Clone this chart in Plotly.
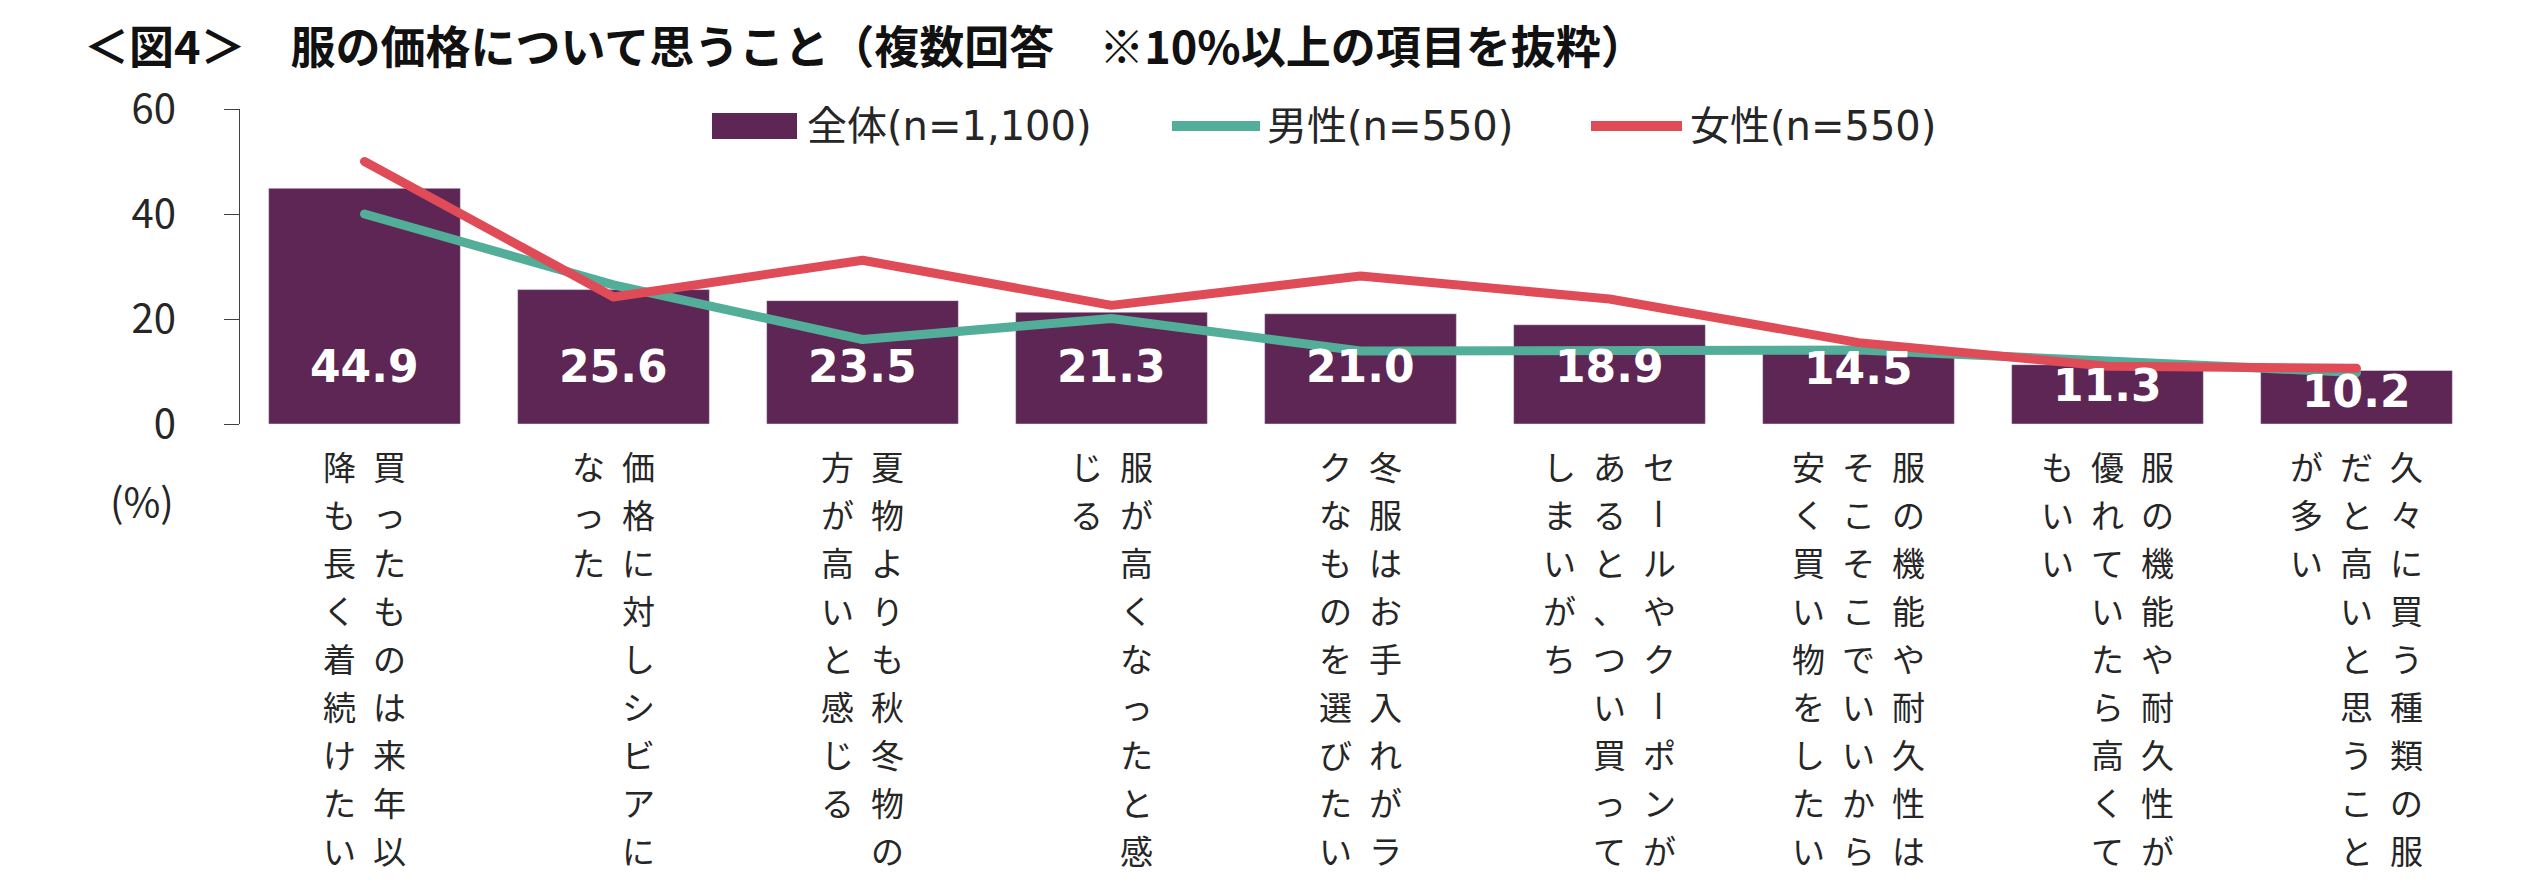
import plotly.graph_objects as go

categories = [
    "買ったものは来年以降も長く着続けたい",
    "価格に対しシビアになった",
    "夏物よりも秋冬物の方が高いと感じる",
    "服が高くなったと感じる",
    "冬服はお手入れがラクなものを選びたい",
    "セールやクーポンがあると、つい買ってしまいがち",
    "服の機能や耐久性はそこそこでいいから安く買い物をしたい",
    "服の機能や耐久性が優れていたら高くてもいい",
    "久々に買う種類の服だと高いと思うことが多い",
]
label_columns = [
    ["買ったものは来年以", "降も長く着続けたい"],
    ["価格に対しシビアに", "なった"],
    ["夏物よりも秋冬物の", "方が高いと感じる"],
    ["服が高くなったと感", "じる"],
    ["冬服はお手入れがラ", "クなものを選びたい"],
    ["セールやクーポンが", "あると、つい買って", "しまいがち"],
    ["服の機能や耐久性は", "そこそこでいいから", "安く買い物をしたい"],
    ["服の機能や耐久性が", "優れていたら高くて", "もいい"],
    ["久々に買う種類の服", "だと高いと思うこと", "が多い"],
]
total = [44.9, 25.6, 23.5, 21.3, 21.0, 18.9, 14.5, 11.3, 10.2]
men = [40.0, 26.5, 16.1, 20.1, 13.9, 14.1, 14.1, 12.0, 9.8]
women = [50.0, 24.2, 31.2, 22.6, 28.2, 23.8, 15.5, 11.0, 10.6]
series_names = ["全体(n=1,100)", "男性(n=550)", "女性(n=550)"]
y_ticks = [0, 20, 40, 60]

PURPLE = "#5E2654"
TEAL = "#52AE98"
RED = "#E04B58"
TXT = "#262626"
FONT = "Noto Sans CJK JP"
FONT_LATIN = "DejaVu Sans, Noto Sans CJK JP"

W, H = 2534, 886
L, R, T, B = 240, 53, 109, 462
PW = W - L - R
PH = H - T - B

LBL_SIZE = 33
COL_PITCH = 50
CH_PITCH = 48
FIRST_CENTER = 42      # px below the axis to the centre of the first character


def px_x(px):
    return (px - L) / PW


def px_y(py):
    return (H - B - py) / PH


fig = go.Figure()
fig.add_trace(go.Bar(x=categories, y=total, marker_color=PURPLE, name=series_names[0],
                     showlegend=False, hoverinfo="skip"))
fig.add_trace(go.Scatter(x=categories, y=men, mode="lines", line=dict(color=TEAL, width=9),
                         name=series_names[1], showlegend=False))
fig.add_trace(go.Scatter(x=categories, y=women, mode="lines", line=dict(color=RED, width=9),
                         name=series_names[2], showlegend=False))

ann = []
# bar value labels
for c, v in zip(categories, total):
    ann.append(dict(x=c, y=min(11.0, v - 4.0), xref="x", yref="y", text=f"<b>{v:.1f}</b>",
                    showarrow=False, font=dict(family=FONT_LATIN, size=44, color="white"),
                    xanchor="center", yanchor="middle"))

# vertical category labels: one cell per character, columns right to left
for c, cols in zip(categories, label_columns):
    n = len(cols)
    for j, col in enumerate(cols):
        xs = ((n - 1) / 2 - j) * COL_PITCH
        for k, ch in enumerate(col):
            d = dict(x=c, y=0, xref="x", yref="paper", text=ch, showarrow=False,
                     font=dict(family=FONT, size=LBL_SIZE, color=TXT),
                     xanchor="center", yanchor="middle", borderpad=0, borderwidth=0,
                     xshift=xs, yshift=-(FIRST_CENTER + CH_PITCH * k))
            if ch == "ー":
                d["textangle"] = 90
            ann.append(d)

# (%) label
ann.append(dict(x=px_x(142), y=px_y(500), xref="paper", yref="paper", text="(%)",
                showarrow=False, font=dict(family=FONT, size=40, color=TXT),
                xanchor="center", yanchor="middle"))

# manual legend
shapes = []
shapes.append(dict(type="rect", xref="paper", yref="paper", x0=px_x(712), x1=px_x(797),
                   y0=px_y(139), y1=px_y(113), fillcolor=PURPLE, line=dict(width=0)))
shapes.append(dict(type="line", xref="paper", yref="paper", x0=px_x(1172), x1=px_x(1260),
                   y0=px_y(126), y1=px_y(126), line=dict(color=TEAL, width=10)))
shapes.append(dict(type="line", xref="paper", yref="paper", x0=px_x(1591), x1=px_x(1682),
                   y0=px_y(126), y1=px_y(126), line=dict(color=RED, width=10)))
for name, xp in zip(series_names, [805, 1265, 1688]):
    ann.append(dict(x=px_x(xp), y=px_y(126), xref="paper", yref="paper", text=name,
                    showarrow=False, font=dict(family=FONT_LATIN, size=40, color=TXT),
                    xanchor="left", yanchor="middle"))

fig.update_layout(
    width=W, height=H,
    margin=dict(l=L, r=R, t=T, b=B, pad=0),
    paper_bgcolor="white", plot_bgcolor="white",
    bargap=0.23,
    showlegend=False,
    title=dict(text="<b>＜図4＞　服の価格について思うこと（複数回答　※10%以上の項目を抜粋）</b>",
               x=84 / W, xanchor="left", xref="container",
               y=1 - 48 / H, yanchor="middle", yref="container",
               font=dict(family=FONT, size=45, color="#111111")),
    xaxis=dict(type="category", showticklabels=False, showline=False, ticks="",
               showgrid=False, zeroline=False),
    yaxis=dict(range=[0, 60], tickvals=y_ticks, showline=True, linecolor="#404040", linewidth=1.3,
               ticks="outside", ticklen=15, tickcolor="#404040", tickwidth=1.3,
               showgrid=False, zeroline=False, ticklabelstandoff=40,
               tickfont=dict(family=FONT, size=40, color=TXT)),
    annotations=ann,
    shapes=shapes,
)

post = (
    "document.body.style.margin='0';document.body.style.overflow='hidden';"
    "document.querySelectorAll('.scatterlayer path.js-line').forEach(function(p){"
    "p.style.strokeLinecap='round';p.style.strokeLinejoin='round';});"
)

fig.write_html("out.html", config={"displayModeBar": False}, post_script=post)
